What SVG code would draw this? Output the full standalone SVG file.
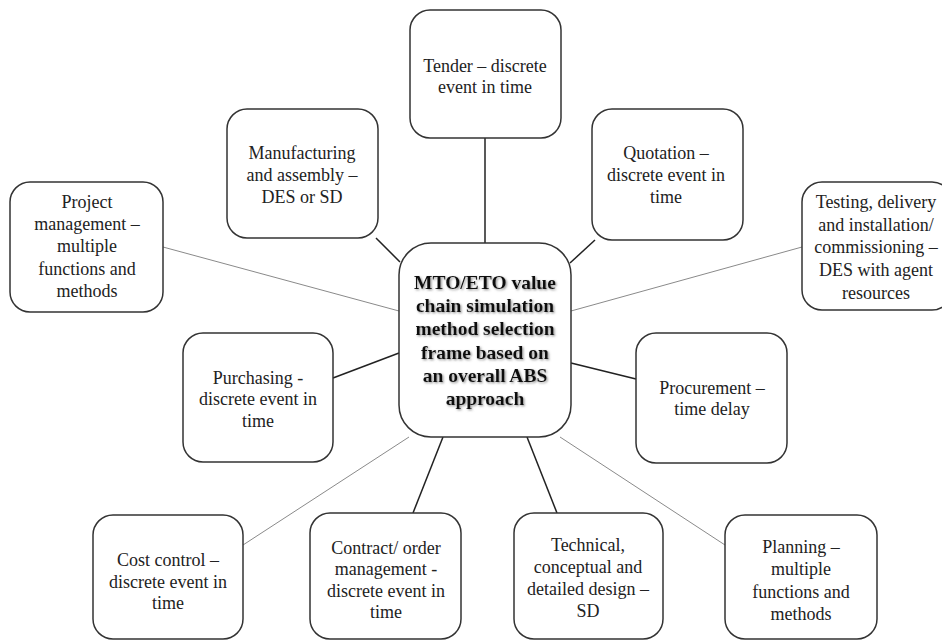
<svg xmlns="http://www.w3.org/2000/svg" width="942" height="642" viewBox="0 0 942 642">
  <style>
    .box { fill: #ffffff; stroke: #333333; stroke-width: 1.5; }
    .lbl { font-family: "Liberation Serif", "Times New Roman", serif; font-size: 18px; fill: #222222; text-anchor: middle; }
    .hub { font-family: "Liberation Serif", "Times New Roman", serif; font-size: 19.5px; font-weight: bold; fill: #111111; text-anchor: middle; }
    .dark { stroke: #222222; stroke-width: 1.5; fill: none; }
    .light { stroke: #8a8a8a; stroke-width: 1; fill: none; }
  </style>
  <defs>
    <filter id="shadow" x="-10%" y="-10%" width="120%" height="130%">
      <feDropShadow dx="1.2" dy="1.2" stdDeviation="0.9" flood-color="#777777" flood-opacity="0.8"/>
    </filter>
  </defs>
  <rect width="942" height="642" fill="#ffffff"/>

  <!-- connectors from the hub to each method box -->
  <g id="connectors">
    <line class="dark" x1="485" y1="138" x2="485" y2="243"/>
    <line class="dark" x1="376" y1="238" x2="400" y2="262"/>
    <line class="dark" x1="595" y1="240" x2="570" y2="263"/>
    <line class="light" x1="163" y1="247" x2="399" y2="311"/>
    <line class="light" x1="802" y1="247" x2="571" y2="311"/>
    <line class="dark" x1="333" y1="378" x2="399" y2="353"/>
    <line class="dark" x1="636" y1="379" x2="571" y2="363"/>
    <line class="light" x1="243" y1="545" x2="409" y2="437"/>
    <line class="dark" x1="413" y1="513" x2="443" y2="437"/>
    <line class="dark" x1="557" y1="513" x2="527" y2="437"/>
    <line class="light" x1="725" y1="545" x2="560" y2="437"/>
  </g>

  <g id="hub">
    <rect class="box" x="399" y="243" width="172" height="194" rx="32"/>
    <g class="hub" filter="url(#shadow)">
      <text x="485" y="289">MTO/ETO value</text>
      <text x="485" y="312">chain simulation</text>
      <text x="485" y="335">method selection</text>
      <text x="485" y="359">frame based on</text>
      <text x="485" y="382">an overall ABS</text>
      <text x="485" y="405">approach</text>
    </g>
  </g>

  <g id="tender">
    <rect class="box" x="410" y="10" width="151" height="128" rx="20"/>
    <text class="lbl" x="485" y="72">Tender – discrete</text>
    <text class="lbl" x="485" y="93">event in time</text>
  </g>

  <g id="manufacturing">
    <rect class="box" x="227" y="109" width="151" height="129" rx="20"/>
    <text class="lbl" x="302" y="159">Manufacturing</text>
    <text class="lbl" x="302" y="181">and assembly –</text>
    <text class="lbl" x="302" y="203">DES or SD</text>
  </g>

  <g id="quotation">
    <rect class="box" x="592" y="109" width="151" height="131" rx="20"/>
    <text class="lbl" x="666" y="159">Quotation –</text>
    <text class="lbl" x="666" y="181">discrete event in</text>
    <text class="lbl" x="666" y="203">time</text>
  </g>

  <g id="project-management">
    <rect class="box" x="10" y="182" width="153" height="130" rx="20"/>
    <text class="lbl" x="87" y="208">Project</text>
    <text class="lbl" x="87" y="230">management –</text>
    <text class="lbl" x="87" y="252">multiple</text>
    <text class="lbl" x="87" y="275">functions and</text>
    <text class="lbl" x="87" y="297">methods</text>
  </g>

  <g id="testing">
    <rect class="box" x="802" y="182" width="150" height="128" rx="20"/>
    <text class="lbl" x="876" y="208">Testing, delivery</text>
    <text class="lbl" x="876" y="231">and installation/</text>
    <text class="lbl" x="876" y="253">commissioning –</text>
    <text class="lbl" x="876" y="276">DES with agent</text>
    <text class="lbl" x="876" y="299">resources</text>
  </g>

  <g id="purchasing">
    <rect class="box" x="183" y="333" width="150" height="129" rx="20"/>
    <text class="lbl" x="258" y="384">Purchasing -</text>
    <text class="lbl" x="258" y="405">discrete event in</text>
    <text class="lbl" x="258" y="427">time</text>
  </g>

  <g id="procurement">
    <rect class="box" x="636" y="333" width="151" height="130" rx="20"/>
    <text class="lbl" x="712" y="394">Procurement –</text>
    <text class="lbl" x="712" y="415">time delay</text>
  </g>

  <g id="cost-control">
    <rect class="box" x="93" y="515" width="150" height="124" rx="20"/>
    <text class="lbl" x="168" y="566">Cost control –</text>
    <text class="lbl" x="168" y="588">discrete event in</text>
    <text class="lbl" x="168" y="609">time</text>
  </g>

  <g id="contract">
    <rect class="box" x="310" y="513" width="151" height="126" rx="20"/>
    <text class="lbl" x="386" y="554">Contract/ order</text>
    <text class="lbl" x="386" y="575">management -</text>
    <text class="lbl" x="386" y="597">discrete event in</text>
    <text class="lbl" x="386" y="618">time</text>
  </g>

  <g id="technical">
    <rect class="box" x="514" y="513" width="149" height="126" rx="20"/>
    <text class="lbl" x="588" y="551">Technical,</text>
    <text class="lbl" x="588" y="573">conceptual and</text>
    <text class="lbl" x="588" y="595">detailed design –</text>
    <text class="lbl" x="588" y="617">SD</text>
  </g>

  <g id="planning">
    <rect class="box" x="725" y="515" width="152" height="124" rx="20"/>
    <text class="lbl" x="801" y="553">Planning –</text>
    <text class="lbl" x="801" y="575">multiple</text>
    <text class="lbl" x="801" y="598">functions and</text>
    <text class="lbl" x="801" y="620">methods</text>
  </g>
</svg>
